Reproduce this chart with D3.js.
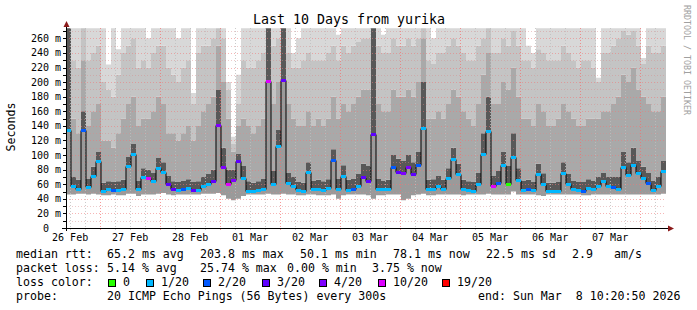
<!DOCTYPE html>
<html>
<head>
<meta charset="utf-8">
<script src="https://cdn.jsdelivr.net/npm/d3@7"></script>
<style>
body { margin: 0; background: #fff; }
svg { display: block; }
text { font-family: "DejaVu Sans Mono", monospace; white-space: pre; }
</style>
</head>
<body>
<svg width="697" height="310"></svg>
<script>
// 2 hour bins (ms)
var medians = [
    134, 57, 54, 134, 56, 71, 92, 51, 53, 52,
    52, 54, 85, 101, 53, 70, 69, 64, 82, 77,
    60, 53, 52, 53, 55, 52, 52, 58, 61, 64,
    141, 83, 60, 66, 92, 68, 51, 51, 52, 53,
    201, 60, 112, 203, 62, 58, 52, 51, 77, 53,
    54, 52, 55, 93, 54, 71, 52, 53, 57, 70,
    64, 129, 54, 53, 53, 83, 77, 76, 84, 74,
    87, 137, 53, 54, 58, 53, 68, 95, 74, 53,
    52, 51, 61, 101, 133, 57, 62, 86, 60, 98,
    66, 52, 54, 52, 74, 60, 51, 51, 51, 76,
    61, 53, 52, 51, 55, 53, 57, 64, 57, 56,
    54, 83, 72, 87, 76, 69, 62, 52, 57, 78
];

// lost pings out of 20
var losses = [
    1, 1, 1, 2, 1, 1, 1, 1, 1, 2,
    1, 1, 1, 1, 1, 1, 10, 1, 1, 1,
    3, 3, 1, 2, 1, 3, 1, 1, 1, 3,
    4, 4, 10, 4, 3, 1, 1, 1, 1, 1,
    10, 1, 1, 3, 1, 1, 1, 1, 1, 1,
    1, 1, 1, 2, 1, 1, 1, 2, 1, 3,
    3, 3, 1, 1, 1, 2, 3, 4, 4, 3,
    2, 1, 1, 1, 1, 1, 1, 1, 1, 1,
    1, 1, 1, 1, 1, 10, 2, 1, 0, 1,
    1, 1, 2, 1, 1, 1, 1, 1, 1, 1,
    1, 1, 1, 2, 1, 1, 1, 1, 1, 2,
    1, 1, 1, 1, 1, 1, 2, 1, 1, 1
];

// smoke: lowest ping, and upper ping levels (dark / mid / high / highest)
var smokeMin = [
    46, 46, 47, 47, 46, 47, 46, 45, 45, 46,
    45, 45, 47, 47, 44, 46, 46, 46, 47, 48,
    46, 45, 46, 46, 46, 46, 46, 47, 47, 47,
    48, 45, 40, 38, 40, 44, 46, 46, 46, 46,
    47, 46, 46, 47, 46, 46, 45, 45, 46, 46,
    45, 45, 45, 46, 40, 45, 46, 46, 46, 46,
    45, 40, 45, 45, 46, 46, 46, 38, 40, 45,
    46, 47, 45, 45, 46, 46, 46, 46, 46, 45,
    46, 46, 46, 46, 47, 46, 46, 46, 46, 50,
    46, 46, 46, 46, 45, 44, 46, 46, 46, 46,
    46, 46, 46, 45, 45, 46, 46, 46, 46, 46,
    46, 46, 46, 46, 46, 46, 46, 46, 46, 47
];
var smokeDark = [
    274, 70, 66, 160, 68, 84, 105, 62, 64, 63,
    64, 66, 98, 115, 65, 82, 80, 76, 96, 90,
    72, 64, 63, 65, 67, 63, 64, 70, 74, 80,
    190, 110, 80, 80, 102, 85, 64, 62, 64, 68,
    274, 78, 135, 274, 76, 70, 63, 62, 90, 65,
    66, 64, 67, 108, 68, 86, 66, 68, 74, 88,
    85, 274, 68, 65, 66, 100, 95, 92, 100, 90,
    105, 200, 66, 67, 72, 66, 82, 110, 88, 66,
    64, 63, 76, 130, 180, 72, 78, 105, 85, 130,
    82, 65, 66, 63, 88, 75, 62, 62, 63, 90,
    74, 65, 63, 63, 67, 65, 70, 76, 70, 70,
    70, 105, 90, 110, 92, 84, 76, 65, 70, 92
];
var smokeMid = [
    274, 150, 130, 230, 140, 160, 170, 120, 120, 110,
    130, 150, 170, 180, 140, 150, 150, 160, 180, 170,
    130, 130, 120, 130, 140, 120, 140, 160, 170, 180,
    250, 200, 150, 105, 140, 150, 140, 130, 140, 150,
    274, 170, 200, 274, 170, 150, 140, 140, 160, 140,
    150, 140, 150, 180, 150, 170, 160, 170, 180, 190,
    190, 274, 170, 160, 160, 190, 180, 180, 190, 180,
    200, 260, 150, 150, 160, 150, 170, 190, 180, 160,
    150, 140, 170, 210, 240, 170, 170, 200, 190, 220,
    180, 150, 150, 140, 170, 160, 140, 140, 150, 170,
    160, 150, 140, 140, 150, 150, 150, 160, 160, 170,
    180, 210, 200, 220, 190, 180, 170, 160, 160, 180
];
var smokeHi = [
    274, 230, 220, 274, 230, 240, 250, 200, 190, 180,
    210, 240, 250, 260, 220, 230, 220, 240, 250, 250,
    220, 210, 200, 220, 230, 170, 240, 250, 250, 260,
    274, 260, 190, 115, 170, 230, 220, 220, 230, 240,
    274, 250, 260, 274, 240, 220, 220, 230, 240, 230,
    230, 230, 240, 250, 230, 250, 240, 250, 255, 260,
    260, 274, 250, 240, 240, 260, 250, 250, 260, 250,
    260, 274, 230, 225, 240, 240, 250, 260, 250, 240,
    230, 230, 250, 260, 274, 240, 240, 260, 250, 270,
    250, 230, 230, 220, 245, 240, 230, 230, 230, 250,
    240, 230, 220, 230, 230, 220, 200, 240, 240, 250,
    260, 270, 265, 270, 250, 225, 250, 240, 240, 250
];
var smokeMax = [
    274, 274, 274, 274, 274, 274, 274, 274, 224, 274,
    245, 274, 274, 274, 274, 274, 260, 274, 274, 274,
    274, 274, 260, 274, 274, 185, 274, 274, 274, 274,
    274, 274, 200, 125, 210, 274, 274, 274, 274, 274,
    274, 274, 274, 274, 274, 240, 260, 274, 274, 274,
    274, 274, 274, 274, 265, 274, 274, 274, 274, 274,
    274, 274, 274, 265, 274, 274, 274, 274, 274, 274,
    274, 274, 274, 260, 274, 274, 274, 274, 274, 274,
    274, 274, 274, 274, 274, 274, 274, 274, 274, 274,
    274, 274, 250, 240, 274, 274, 274, 274, 274, 274,
    274, 274, 274, 274, 274, 274, 206, 274, 274, 274,
    274, 274, 274, 274, 274, 233, 274, 274, 274, 274
];

var yTicks = [0, 20, 40, 60, 80, 100, 120, 140, 160, 180, 200, 220, 240, 260];

// legend
var lossSteps = [0, 1, 2, 3, 4, 10, 19];
var lossColors = ['#26ff00', '#00b8ff', '#0059ff', '#5e00ff', '#7e00ff', '#dd00ff', '#ff0000'];
var lossLabels = ['0', '1/20', '2/20', '3/20', '4/20', '10/20', '19/20'];
var rttLegend = ['median rtt:', '65.2 ms avg', '203.8 ms max', '50.1 ms min', '78.1 ms now', '22.5 ms sd', '2.9', 'am/s'];
var lossLegend = ['packet loss:', '5.14 % avg', '25.74 % max', '0.00 % min', '3.75 % now'];
var probeLegend = ['probe:', '20 ICMP Echo Pings (56 Bytes) every 300s', 'end: Sun Mar  8 10:20:50 2026'];

var svg = d3.select('svg');

var plot = {l: 66, r: 666, t: 28, b: 228};
var startTime = new Date(2026, 1, 26, 10, 20, 50);
var endTime = new Date(2026, 2, 8, 10, 20, 50);
var stepMs = 2 * 3600 * 1000;

var x = d3.scaleTime().domain([startTime, endTime]).range([plot.l, plot.r]);
var y = d3.scaleLinear().domain([0, 274.2]).range([plot.b, plot.t]);

// one row per bin, plus a closing row so the last step has width
var binRows = medians.map(function(m, i) {
    return {
        t: new Date(startTime.getTime() + i * stepMs),
        med: m, loss: losses[i],
        lo: smokeMin[i], dark: smokeDark[i], mid: smokeMid[i], hi: smokeHi[i], top: smokeMax[i]
    };
});
var stepRows = binRows.concat([Object.assign({}, binRows[binRows.length - 1], {t: endTime})]);

function lossColor(n) {
    var c = lossColors[0];
    lossSteps.forEach(function(s, i) { if (n >= s) c = lossColors[i]; });
    return c;
}

svg.append('clipPath').attr('id', 'plotclip')
    .append('rect')
    .attr('x', plot.l).attr('y', plot.t)
    .attr('width', plot.r - plot.l).attr('height', plot.b - plot.t);

var smokeG = svg.append('g').attr('clip-path', 'url(#plotclip)');

//smoke layers, from the lowest ping up to the highest
var layers = [
    ['lo', 'med', '#9a9a9a'],
    ['med', 'dark', '#585858'],
    ['dark', 'mid', '#a9a9a9'],
    ['mid', 'hi', '#c4c4c4'],
    ['hi', 'top', '#d8d8d8']
];
layers.forEach(function(l) {
    var area = d3.area()
        .curve(d3.curveStepAfter)
        .x(function(d) { return x(d.t); })
        .y0(function(d) { return y(d[l[0]]); })
        .y1(function(d) { return y(d[l[1]]); });
    smokeG.append('path')
        .datum(stepRows)
        .attr('d', area)
        .attr('fill', l[2]);
});

// grid
var gridG = svg.append('g');
d3.range(10, 275, 10).forEach(function(v) {
    var yy = Math.round(y(v)) + 0.5;
    gridG.append('line')
        .attr('x1', plot.l).attr('x2', plot.r)
        .attr('y1', yy).attr('y2', yy)
        .attr('stroke', v % 20 === 0 ? 'rgba(240,120,120,0.55)' : 'rgba(215,140,140,0.45)')
        .attr('stroke-dasharray', '1,2');
});
d3.timeHour.every(6).range(startTime, endTime).forEach(function(t) {
    var xx = Math.round(x(t)) + 0.5;
    var major = t.getHours() === 0;
    gridG.append('line')
        .attr('x1', xx).attr('x2', xx)
        .attr('y1', plot.t).attr('y2', plot.b + 2)
        .attr('stroke', major ? 'rgba(245,110,110,0.7)' : 'rgba(190,190,190,0.8)')
        .attr('stroke-dasharray', '1,2');
});

// median line and loss colour marks
var medLine = d3.line()
    .curve(d3.curveStepAfter)
    .x(function(d) { return x(d.t); })
    .y(function(d) { return Math.round(y(d.med)) + 0.5; });
svg.append('path')
    .datum(stepRows)
    .attr('d', medLine)
    .attr('fill', 'none')
    .attr('stroke', '#000')
    .attr('stroke-width', 1);

svg.append('g').selectAll('rect')
    .data(binRows)
    .enter()
    .append('rect')
    .attr('x', function(d) { return x(d.t); })
    .attr('width', function(d) { return x(new Date(d.t.getTime() + stepMs)) - x(d.t); })
    .attr('y', function(d) { return Math.round(y(d.med)) - 1; })
    .attr('height', 3)
    .attr('fill', function(d) { return lossColor(d.loss); });

// axes
var axisG = svg.append('g');
axisG.append('line')
    .attr('x1', 62).attr('x2', 669)
    .attr('y1', plot.b + 0.5).attr('y2', plot.b + 0.5)
    .attr('stroke', '#000');
axisG.append('line')
    .attr('x1', plot.l + 0.5).attr('x2', plot.l + 0.5)
    .attr('y1', plot.b + 3).attr('y2', 25)
    .attr('stroke', '#000');
axisG.append('path')
    .attr('d', 'M668,225.5 L674,228.5 L668,231.5 Z')
    .attr('fill', '#8b1a1a');
axisG.append('path')
    .attr('d', 'M63.5,27 L66.5,21 L69.5,27 Z')
    .attr('fill', '#8b1a1a');

d3.range(0, 275, 10).forEach(function(v) {
    var yy = Math.round(y(v)) + 0.5;
    axisG.append('line')
        .attr('x1', 63).attr('x2', 66)
        .attr('y1', yy).attr('y2', yy)
        .attr('stroke', '#000');
});

axisG.selectAll('text.ylab')
    .data(yTicks)
    .enter()
    .append('text')
    .attr('class', 'ylab')
    .attr('x', function(d) { return d === 0 ? 49 : 61; })
    .attr('y', function(d) { return y(d); })
    .attr('dy', '0.35em')
    .attr('text-anchor', 'end')
    .style('font-size', '10px')
    .attr('fill', '#000')
    .text(function(d) { return d === 0 ? '0' : d + ' m'; });

// day labels sit at noon
var noons = d3.timeDay.range(d3.timeDay.floor(startTime), endTime)
    .map(function(d) { return d3.timeHour.offset(d, 12); })
    .filter(function(d) { return d >= startTime && d <= endTime; });
axisG.selectAll('text.xlab')
    .data(noons)
    .enter()
    .append('text')
    .attr('class', 'xlab')
    .attr('x', function(d) { return x(d); })
    .attr('y', 241)
    .attr('text-anchor', 'middle')
    .style('font-size', '10px')
    .text(d3.timeFormat('%d %b'));

// titles
svg.append('text')
    .attr('x', 349).attr('y', 23.5)
    .attr('text-anchor', 'middle')
    .style('font-size', '13.3px')
    .text('Last 10 Days from yurika');

svg.append('text')
    .attr('transform', 'translate(15,127) rotate(-90)')
    .attr('text-anchor', 'middle')
    .style('font-size', '11.6px')
    .text('Seconds');

svg.append('text')
    .attr('transform', 'translate(684,5) rotate(90)')
    .style('font-size', '8.3px')
    .attr('fill', '#a0a0a0')
    .text('RRDTOOL / TOBI OETIKER');

// legend rows
var legendRows = [
    [rttLegend, [16, 107, 200, 300, 393, 486, 572, 614], 257.5],
    [lossLegend, [16, 107, 200, 287, 372], 271.5],
    [probeLegend, [16, 107, 478], 299.5]
];
legendRows.forEach(function(r) {
    r[0].forEach(function(s, i) {
        svg.append('text')
            .attr('x', r[1][i]).attr('y', r[2])
            .style('font-size', '11.6px')
            .text(s);
    });
});

svg.append('text')
    .attr('x', 16).attr('y', 285.5)
    .style('font-size', '11.6px')
    .text('loss color:');

var swatchX = [108, 146, 203, 262, 319, 378, 442];
lossColors.forEach(function(c, i) {
    svg.append('rect')
        .attr('x', swatchX[i] + 0.5).attr('y', 279.5)
        .attr('width', 7).attr('height', 7)
        .attr('fill', c)
        .attr('stroke', '#000');
    svg.append('text')
        .attr('x', swatchX[i] + 15).attr('y', 285.5)
        .style('font-size', '11.6px')
        .text(lossLabels[i]);
});
</script>
</body>
</html>
